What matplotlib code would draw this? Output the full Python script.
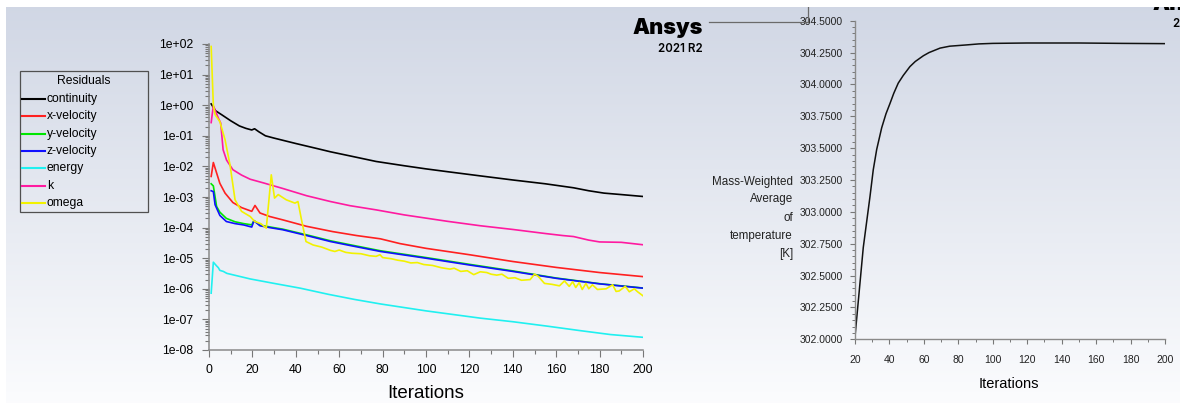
import numpy as np
import matplotlib
matplotlib.use("Agg")
import matplotlib.pyplot as plt
from matplotlib import font_manager
from matplotlib.patches import Rectangle
from matplotlib.lines import Line2D
from matplotlib.ticker import FixedLocator, MultipleLocator, LogLocator, NullFormatter, FuncFormatter

# ---------------- data ----------------
series_names = ["continuity", "x-velocity", "y-velocity", "z-velocity", "energy", "k", "omega"]
series_colors = ["#000000", "#ff2020", "#00e600", "#1010ff", "#20f0f0", "#ff1aa0", "#f2f200"]

continuity_it = [1, 3, 6, 10, 14, 17, 19.7, 21, 23, 26, 30, 40, 50, 56, 65, 77, 90, 100, 110, 125, 140, 155, 168, 175, 182, 190, 200]
continuity_val = [1.1, 0.66, 0.48, 0.31, 0.21, 0.175, 0.155, 0.17, 0.135, 0.10, 0.084, 0.056, 0.038, 0.030, 0.022, 0.0145,
                  0.0105, 0.0083, 0.0067, 0.0049, 0.0036, 0.0027, 0.0020, 0.0016, 0.00134, 0.0012, 0.00104]

xvel_it = [1, 2, 5, 7.4, 11, 15, 19.7, 21.2, 23.5, 28, 34, 45, 57, 68, 79, 88, 100, 120, 140, 160, 180, 200]
xvel_val = [0.0047, 0.0134, 0.0028, 0.00134, 0.00066, 0.00045, 0.00034, 0.00053, 0.00030, 0.00023, 0.000179, 0.000110,
            7.4e-5, 5.5e-5, 4.3e-5, 3.0e-5, 2.1e-5, 1.3e-5, 7.8e-6, 5.0e-6, 3.4e-6, 2.5e-6]

yvel_it = [1, 2, 3.5, 5, 8, 12, 16, 19.7, 20.7, 23.5, 28, 34, 45, 56, 65, 79, 100, 120, 140, 160, 180, 200]
yvel_val = [0.0027, 0.0023, 0.00049, 0.00032, 0.00020, 0.000155, 0.000135, 0.000123, 0.00017, 0.00012, 0.000105, 8.9e-5,
            5.8e-5, 3.7e-5, 2.75e-5, 1.75e-5, 1.05e-5, 6.3e-6, 3.85e-6, 2.25e-6, 1.47e-6, 1.06e-6]

zvel_it = [1, 2, 2.8, 5, 8, 12, 16, 19.7, 20.7, 23.5, 28, 34, 45, 56, 65, 79, 100, 120, 140, 160, 180, 200]
zvel_val = [0.0016, 0.0015, 0.00056, 0.00025, 0.000158, 0.000135, 0.000122, 0.000104, 0.000167, 0.000115, 0.000100, 8.5e-5,
            5.5e-5, 3.5e-5, 2.6e-5, 1.66e-5, 1.0e-5, 6.0e-6, 3.7e-6, 2.2e-6, 1.45e-6, 1.05e-6]

energy_it = [1, 2, 3.5, 4.3, 5, 6.6, 8.2, 19, 30, 42, 55, 67, 79, 100, 125, 140, 156, 171, 185, 200]
energy_val = [7.2e-7, 7.4e-6, 5.6e-6, 4.9e-6, 4.0e-6, 3.7e-6, 3.2e-6, 2.1e-6, 1.5e-6, 1.05e-6, 6.6e-7, 4.5e-7, 3.2e-7,
              1.9e-7, 1.1e-7, 8.4e-8, 6.0e-8, 4.3e-8, 3.2e-8, 2.6e-8]

k_it = [1, 2, 4.3, 5.4, 6.5, 8.1, 11, 15, 19, 25, 34, 45, 56, 65, 77, 90, 100, 110, 125, 140, 155, 163, 168, 175, 180, 190, 200]
k_val = [0.27, 0.95, 0.38, 0.26, 0.035, 0.016, 0.0078, 0.0052, 0.0038, 0.0029, 0.0019, 0.0011, 0.00071, 0.00052, 0.00038,
         0.00026, 0.000204, 0.00016, 0.000115, 8.7e-5, 6.4e-5, 5.5e-5, 5.1e-5, 3.9e-5, 3.4e-5, 3.3e-5, 2.75e-5]

omega_it = [1, 2, 2.8, 5, 7.4, 9.7, 12, 15, 19, 21, 24, 26.4, 28.7, 30.2, 31.9, 35.6, 39.6, 41, 42.5, 44.7, 48, 52,
            56, 58, 60, 63, 66, 70, 74, 77, 78.8, 80, 84, 87, 90, 93, 96, 99, 103, 107, 111, 113, 116, 119, 122, 125,
            128, 130, 132.6, 135, 137.9, 141, 144, 148, 150, 151.6, 154.6, 158, 161.5, 163.8, 166, 167.6, 169, 170.6,
            172, 173.7, 175, 176.7, 179, 183, 186, 187.6, 189, 191.8, 193.7, 196, 197.5, 200]
omega_val = [83, 1.0, 0.49, 0.29, 0.074, 0.011, 0.00081, 0.00034, 0.00023, 0.00016, 0.000133, 9.6e-5, 0.0053, 0.00092,
             0.0012, 0.00081, 0.00063, 0.00071, 0.0002, 3.5e-5, 2.7e-5, 2.3e-5,
             1.8e-5, 1.66e-5, 1.85e-5, 1.55e-5, 1.45e-5, 1.4e-5, 1.2e-5, 1.15e-5, 1.3e-5, 1.05e-5, 9.6e-6, 8.6e-6,
             8.0e-6, 7.0e-6, 7.2e-6, 6.2e-6, 5.8e-6, 4.9e-6, 4.4e-6, 4.7e-6, 3.7e-6, 3.9e-6, 2.9e-6, 3.6e-6,
             3.4e-6, 3.0e-6, 2.8e-6, 3.0e-6, 2.2e-6, 2.3e-6, 1.9e-6, 2.0e-6, 3.0e-6, 2.6e-6, 1.5e-6, 1.4e-6, 1.25e-6,
             1.8e-6, 1.2e-6, 1.7e-6, 1.1e-6, 1.6e-6,
             9.5e-7, 1.5e-6, 1.0e-6, 1.35e-6, 9.5e-7, 1.0e-6, 1.35e-6, 8.2e-7, 8.5e-7, 1.2e-6, 8.0e-7, 1.0e-6, 8.0e-7, 5.9e-7]

series_it = [continuity_it, xvel_it, yvel_it, zvel_it, energy_it, k_it, omega_it]
series_val = [continuity_val, xvel_val, yvel_val, zvel_val, energy_val, k_val, omega_val]

left_xticks = [0, 20, 40, 60, 80, 100, 120, 140, 160, 180, 200]
left_yticks = [1e-8, 1e-7, 1e-6, 1e-5, 1e-4, 1e-3, 1e-2, 1e-1, 1e0, 1e1, 1e2]
left_yticklabels = ["1e-08", "1e-07", "1e-06", "1e-05", "1e-04", "1e-03", "1e-02", "1e-01", "1e+00", "1e+01", "1e+02"]

temp_it = [20, 24.8, 28.7, 30.6, 32.6, 35.5, 38, 40.3, 42.5, 45.1, 48, 51.9, 55, 59.7, 63, 69.4, 75, 84.8, 92,
           100, 120, 150, 175, 200]
temp_val = [302.02, 302.72, 303.12, 303.33, 303.49, 303.66, 303.77, 303.85, 303.93, 304.01, 304.07, 304.14, 304.18,
            304.225, 304.25, 304.285, 304.30, 304.31, 304.318, 304.322, 304.325, 304.325, 304.322, 304.32]
right_xticks = [20, 40, 60, 80, 100, 120, 140, 160, 180, 200]
right_yticks = [302.0, 302.25, 302.5, 302.75, 303.0, 303.25, 303.5, 303.75, 304.0, 304.25, 304.5]
right_ylabel_lines = ["Mass-Weighted", "Average", "of", "temperature", "[K]"]

# ---------------- figure ----------------
W, H = 1180, 403
fig = plt.figure(figsize=(W / 100, H / 100), dpi=100)


def fx(x):
    return x / W


def fy(y):
    return 1 - y / H


installed = {f.name for f in font_manager.fontManager.ttflist}
SANS = "Liberation Sans" if "Liberation Sans" in installed else "DejaVu Sans"
LOGO = "Inter" if "Inter" in installed else SANS

# background gradient
bg = fig.add_axes([0, 0, 1, 1], zorder=-10)
rows = np.linspace(0, 1, H)[:, None]
top = np.array([0.815, 0.84, 0.895])
bot = np.array([0.985, 0.988, 0.995])
img = top[None, None, :] * (1 - rows[:, :, None]) + bot[None, None, :] * rows[:, :, None]
img = np.repeat(img, W, axis=1)
img[:, :6, :] = 1.0
bg.imshow(img, aspect="auto", extent=[0, W, H, 0], interpolation="bilinear")
bg.set_xlim(0, W)
bg.set_ylim(H, 0)
bg.axis("off")

spine_c = "#8a8a8a"
tick_c = "#777777"

# ---------------- left: residuals ----------------
axL = fig.add_axes([fx(209), fy(350), fx(643) - fx(209), fy(44) - fy(350)])
axL.patch.set_alpha(0)
for name, col, it, val in zip(series_names, series_colors, series_it, series_val):
    axL.plot(it, val, color=col, lw=1.2, solid_joinstyle="round")
axL.set_yscale("log")
axL.set_xlim(0, 200)
axL.set_ylim(1e-8, 1e2)
axL.yaxis.set_major_locator(FixedLocator(left_yticks))
axL.set_yticklabels(left_yticklabels)
axL.yaxis.set_minor_locator(LogLocator(base=10, subs=np.arange(2, 10), numticks=20))
axL.yaxis.set_minor_formatter(NullFormatter())
axL.set_xticks(left_xticks)
axL.xaxis.set_minor_locator(MultipleLocator(10))
for s in ["top", "right"]:
    axL.spines[s].set_visible(False)
for s in ["left", "bottom"]:
    axL.spines[s].set_color(spine_c)
    axL.spines[s].set_linewidth(1.1)
axL.tick_params(axis="both", which="major", length=5, width=0.8, color=tick_c, labelsize=8.8)
axL.tick_params(axis="both", which="minor", length=2.8, width=0.8, color=tick_c)
axL.tick_params(axis="y", which="major", pad=6.5)
axL.tick_params(axis="x", which="major", pad=5)
for lab in axL.get_xticklabels() + axL.get_yticklabels():
    lab.set_fontfamily(SANS)
fig.text(fx(426), fy(393), "Iterations", ha="center", va="center", fontsize=13.5, family=SANS)

# legend box (manual)
fig.patches.append(Rectangle((fx(20), fy(212)), fx(148) - fx(20), fy(71) - fy(212), transform=fig.transFigure,
                             fill=False, edgecolor="#505050", lw=0.9))
fig.text(fx(84), fy(81), "Residuals", ha="center", va="center", fontsize=8.7, family=SANS)
for i, (name, col) in enumerate(zip(series_names, series_colors)):
    yy = 99 + i * 17.35
    fig.lines.append(Line2D([fx(22), fx(45)], [fy(yy), fy(yy)], transform=fig.transFigure, color=col, lw=1.5))
    fig.text(fx(47), fy(yy), name, ha="left", va="center", fontsize=8.7, family=SANS)

# Ansys logo (and the second, mostly cut-off copy at top right)
fig.text(fx(703), fy(34), "Ansys", ha="right", va="baseline", fontsize=15.5, fontweight="black", family=LOGO)
fig.text(fx(703), fy(52), "2021 R2", ha="right", va="baseline", fontsize=8.3, fontweight="semibold", family=LOGO)
fig.text(fx(1153), fy(9.5), "Ansys", ha="left", va="baseline", fontsize=15.5, fontweight="black", family=LOGO)
fig.text(fx(1173), fy(27), "2021 R2", ha="left", va="baseline", fontsize=8.3, fontweight="semibold", family=LOGO)
fig.lines.append(Line2D([fx(709), fx(807)], [fy(22.3), fy(22.3)], transform=fig.transFigure, color="#6a6a6a", lw=0.9))
fig.lines.append(Line2D([fx(808), fx(808)], [fy(7), fy(22.3)], transform=fig.transFigure, color="#6a6a6a", lw=0.9))
# white top margin of the screenshot (covers the cut logo)
fig.patches.append(Rectangle((0, fy(7)), 1, 1 - fy(7), transform=fig.transFigure, facecolor="white",
                             edgecolor="none", zorder=10))

# ---------------- right: temperature ----------------
axR = fig.add_axes([fx(855), fy(339.3), fx(1165) - fx(855), fy(20.7) - fy(339.3)])
axR.patch.set_alpha(0)
axR.plot(temp_it, temp_val, color="#111111", lw=1.1)
axR.set_xlim(20, 200)
axR.set_ylim(302.0, 304.5)
axR.set_yticks(right_yticks)
axR.yaxis.set_major_formatter(FuncFormatter(lambda v, p: f"{v:.4f}"))
axR.yaxis.set_minor_locator(MultipleLocator(0.05))
axR.set_xticks(right_xticks)
axR.xaxis.set_minor_locator(MultipleLocator(10))
for s in ["top", "right"]:
    axR.spines[s].set_visible(False)
for s in ["left", "bottom"]:
    axR.spines[s].set_color(spine_c)
    axR.spines[s].set_linewidth(1.0)
axR.tick_params(axis="both", which="major", length=3.5, width=0.8, color=tick_c, labelsize=7.5)
axR.tick_params(axis="both", which="minor", length=2, width=0.7, color=tick_c)
axR.tick_params(axis="y", which="major", pad=5)
axR.tick_params(axis="x", which="major", pad=8)
for lab in axR.get_xticklabels() + axR.get_yticklabels():
    lab.set_fontfamily(SANS)
    lab.set_color("#222222")
fig.text(fx(1009), fy(384), "Iterations", ha="center", va="center", fontsize=10.5, family=SANS)
for i, line in enumerate(right_ylabel_lines):
    fig.text(fx(793), fy(181.5 + i * 18), line, ha="right", va="center", fontsize=8.4, family=SANS,
             color="#222222")

fig.savefig("out.png", dpi=100)
